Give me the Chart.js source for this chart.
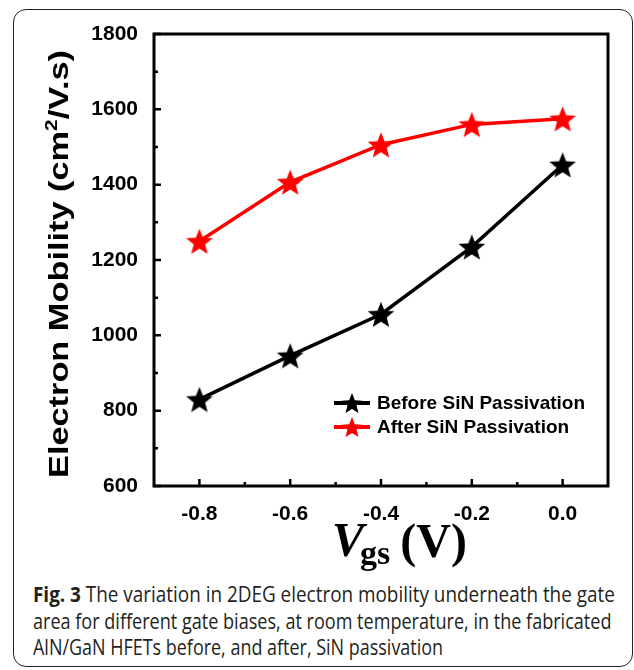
<!DOCTYPE html>
<html>
<head>
<meta charset="utf-8">
<script src="https://cdn.jsdelivr.net/npm/chart.js@4.4.1/dist/chart.umd.min.js"></script>
<style>
  html, body { margin: 0; padding: 0; background: #fff; }
  #fig { position: relative; width: 634px; height: 670px; overflow: hidden; }
  #frame { position: absolute; left: 13px; top: 9px; width: 620px; height: 658px;
           border: 1.5px solid #222; border-radius: 13px; box-sizing: border-box; }
  #chart { position: absolute; left: 0; top: 0; }
  #cap { position: absolute; left: 33px; top: 581px; font-family: 'Open Sans', sans-serif;
         font-size: 21px; line-height: 26.7px; color: #231f20; white-space: nowrap; }
  #cap div { transform-origin: 0 0; }
</style>
</head>
<body>
<div id="fig">
  <div id="frame"></div>
  <canvas id="chart" width="634" height="575"></canvas>
  <div id="cap">
    <div style="transform: scaleX(0.9)"><b>Fig. 3</b> The variation in 2DEG electron mobility underneath the gate</div>
    <div style="transform: scaleX(0.86)">area for different gate biases, at room temperature, in the fabricated</div>
    <div style="transform: scaleX(0.855)">AlN/GaN HFETs before, and after, SiN passivation</div>
  </div>
</div>
<script>
// data
const vgs = [-0.8, -0.6, -0.4, -0.2, 0.0];
const beforeSiN = [830, 946, 1056, 1235, 1453];
const afterSiN = [1250, 1407, 1506, 1560, 1575];
const seriesNames = ['Before SiN Passivation', 'After SiN Passivation'];

const xTicks = [-0.8, -0.6, -0.4, -0.2, 0.0];
const xMinor = [-0.7, -0.5, -0.3, -0.1];
const yTicks = [600, 800, 1000, 1200, 1400, 1600, 1800];
const yMinor = [700, 900, 1100, 1300, 1500, 1700];

const tickFont = { family: "'Liberation Sans', Arial, sans-serif", weight: 'bold', size: 21 };

// filled 5-point star as a point image
function makeStar(color, outer, inner) {
    const c = document.createElement('canvas');
    const s = Math.ceil(outer * 2 + 2);
    c.width = s; c.height = s;
    const g = c.getContext('2d');
    g.translate(s / 2, s / 2 + outer * 0.1);
    g.beginPath();
    for (let i = 0; i < 10; i++) {
        const r = i % 2 === 0 ? outer : inner;
        const a = -Math.PI / 2 + i * Math.PI / 5;
        g.lineTo(r * Math.cos(a), r * Math.sin(a));
    }
    g.closePath();
    g.fillStyle = color;
    g.fill();
    return c;
}

const blackStar = makeStar('#000', 14, 6);
const redStar = makeStar('#ff0000', 14, 6);
const blackStarSmall = makeStar('#000', 11, 4.8);
const redStarSmall = makeStar('#ff0000', 11, 4.8);

// frame, inward ticks, legend and axis titles
const decorations = {
    id: 'decorations',
    afterDraw(chart) {
        const ctx = chart.ctx;
        const a = chart.chartArea;
        const xs = chart.scales.x, ys = chart.scales.y;
        ctx.save();
        ctx.strokeStyle = '#000';
        ctx.lineWidth = 3;
        ctx.strokeRect(a.left, a.top, a.right - a.left, a.bottom - a.top);

        ctx.lineWidth = 2.5;
        ctx.beginPath();
        yTicks.forEach(v => { const y = ys.getPixelForValue(v); ctx.moveTo(a.left, y); ctx.lineTo(a.left + 7, y); });
        yMinor.forEach(v => { const y = ys.getPixelForValue(v); ctx.moveTo(a.left, y); ctx.lineTo(a.left + 4, y); });
        xTicks.forEach(v => { const x = xs.getPixelForValue(v); ctx.moveTo(x, a.bottom); ctx.lineTo(x, a.bottom - 7); });
        xMinor.forEach(v => { const x = xs.getPixelForValue(v); ctx.moveTo(x, a.bottom); ctx.lineTo(x, a.bottom - 4); });
        ctx.stroke();

        // legend
        const rows = [[403, '#000', blackStarSmall], [427, '#ff0000', redStarSmall]];
        ctx.font = "bold 19px 'Liberation Sans', Arial, sans-serif";
        ctx.textBaseline = 'middle';
        ctx.textAlign = 'left';
        chart.data.datasets.forEach((ds, i) => {
            const [y, col, img] = rows[i];
            ctx.strokeStyle = col;
            ctx.lineWidth = 4;
            ctx.beginPath(); ctx.moveTo(334, y); ctx.lineTo(370, y); ctx.stroke();
            ctx.drawImage(img, 352 - img.width / 2, y - img.height / 2);
            ctx.fillStyle = '#000';
            ctx.fillText(ds.label, 377, y + 1);
        });

        // x title: V_gs (V)
        ctx.textBaseline = 'alphabetic';
        ctx.fillStyle = '#000';
        ctx.font = "italic bold 48px 'Liberation Serif', 'Times New Roman', serif";
        ctx.fillText('V', 332, 556);
        const vw = ctx.measureText('V').width;
        ctx.font = "bold 34px 'Liberation Serif', 'Times New Roman', serif";
        ctx.fillText('gs', 332 + vw - 4, 564);
        const gw = ctx.measureText('gs').width;
        ctx.font = "bold 48px 'Liberation Serif', 'Times New Roman', serif";
        ctx.fillText(' (V)', 332 + vw - 4 + gw - 2, 557);

        // y title, rotated
        ctx.translate(68, 264);
        ctx.rotate(-Math.PI / 2);
        const big = "bold 28px 'Liberation Sans', Arial, sans-serif";
        const small = "bold 17px 'Liberation Sans', Arial, sans-serif";
        const p1 = 'Electron Mobility (cm', p2 = '2', p3 = '/V.s)';
        ctx.font = big; const w1 = ctx.measureText(p1).width, w3 = ctx.measureText(p3).width;
        ctx.font = small; const w2 = ctx.measureText(p2).width;
        const total = w1 + w2 + w3;
        ctx.scale(428 / total, 1);
        const x0 = -total / 2;
        ctx.font = big; ctx.fillText(p1, x0, 0);
        ctx.font = small; ctx.fillText(p2, x0 + w1, -11);
        ctx.font = big; ctx.fillText(p3, x0 + w1 + w2, 0);
        ctx.restore();
    }
};

new Chart(document.getElementById('chart'), {
    type: 'line',
    data: {
        datasets: [{
            label: seriesNames[0],
            data: vgs.map((x, i) => ({ x, y: beforeSiN[i] })),
            borderColor: '#000',
            borderWidth: 3.5,
            pointStyle: blackStar,
            tension: 0,
            clip: false
        }, {
            label: seriesNames[1],
            data: vgs.map((x, i) => ({ x, y: afterSiN[i] })),
            borderColor: '#ff0000',
            borderWidth: 3.5,
            pointStyle: redStar,
            tension: 0,
            clip: false
        }]
    },
    options: {
        responsive: false,
        animation: false,
        layout: { padding: { left: 0, right: 26, top: 34, bottom: 0 } },
        plugins: { legend: { display: false }, tooltip: { enabled: false } },
        scales: {
            x: {
                type: 'linear',
                min: -0.9,
                max: 0.1,
                afterBuildTicks: s => { s.ticks = xTicks.map(v => ({ value: v })); },
                afterFit: s => { s.height = 89; },
                grid: { display: false },
                border: { display: false },
                ticks: { font: tickFont, color: '#000', padding: 8, maxRotation: 0, autoSkip: false,
                         callback: v => v.toFixed(1) }
            },
            y: {
                min: 600,
                max: 1800,
                afterBuildTicks: s => { s.ticks = yTicks.map(v => ({ value: v })); },
                afterFit: s => { s.width = 154; },
                grid: { display: false },
                border: { display: false },
                ticks: { font: tickFont, color: '#000', padding: 8, autoSkip: false,
                         callback: v => String(v) }
            }
        }
    },
    plugins: [decorations]
});
</script>
</body>
</html>
